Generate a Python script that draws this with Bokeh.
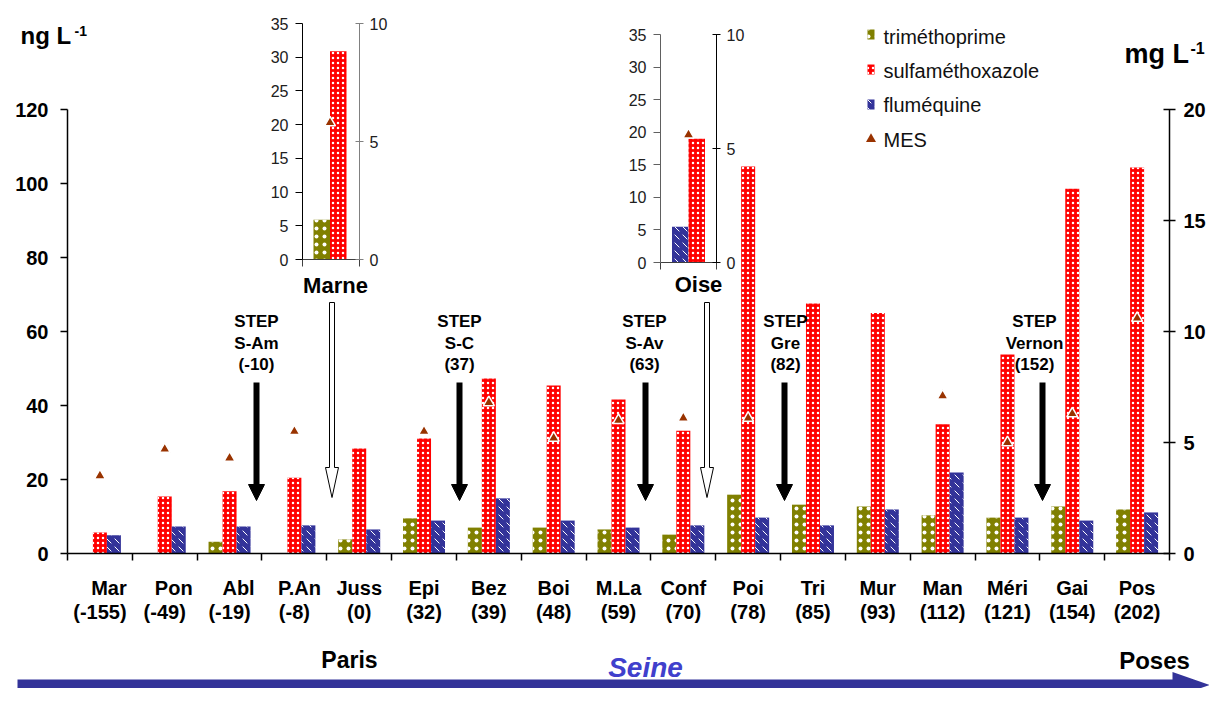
import math
from bokeh.plotting import figure
from bokeh.models import (Range1d, LinearAxis, FixedTicker, ColumnDataSource, Arrow,
                          NormalHead, CustomJSTickFormatter)
from bokeh.core.properties import value
from bokeh.embed import file_html
from bokeh.resources import INLINE

nan = float("nan")

# ---------------- data ----------------
sites = ["Mar", "Pon", "Abl", "P.An", "Juss", "Epi", "Bez", "Boi", "M.La", "Conf",
         "Poi", "Tri", "Mur", "Man", "Méri", "Gai", "Pos"]
km = ["(-155)", "(-49)", "(-19)", "(-8)", "(0)", "(32)", "(39)", "(48)", "(59)", "(70)",
      "(78)", "(85)", "(93)", "(112)", "(121)", "(154)", "(202)"]
trimethoprime = [0, 0, 3.2, 0, 3.8, 9.5, 7.0, 7.0, 6.5, 5.1, 15.9, 13.2, 12.7, 10.3, 9.7, 12.7, 11.9]
sulfamethoxazole = [5.7, 15.4, 16.8, 20.5, 28.4, 31.1, 47.3, 45.4, 41.6, 33.2,
                    104.6, 67.6, 65.0, 34.9, 53.8, 98.6, 104.3]
flumequine = [4.9, 7.3, 7.3, 7.6, 6.5, 8.9, 14.9, 8.9, 7.0, 7.6, 9.7, 7.6, 11.9, 21.9, 9.7, 8.9, 11.1]
mes = [3.5, 4.7, 4.3, 5.5, nan, 5.5, 6.8, 5.2, 6.0, 6.1, 6.1, nan, nan, 7.1, 5.0, 6.3, 10.6]

inset_names = ["Marne", "Oise"]
inset_trimethoprime = [5.9, 0.0]
inset_sulfamethoxazole = [30.9, 19.0]
inset_flumequine = [0.0, 5.5]
inset_mes = [5.8, 5.6]

series_names = ["triméthoprime", "sulfaméthoxazole", "fluméquine", "MES"]

step_names = ["S-Am", "S-C", "S-Av", "Gre", "Vernon"]
step_km = ["(-10)", "(37)", "(63)", "(82)", "(152)"]

left_ticks = [0, 20, 40, 60, 80, 100, 120]
right_ticks = [0, 5, 10, 15, 20]
inset_left_ticks = [0, 5, 10, 15, 20, 25, 30, 35]
inset_right_ticks = [0, 5, 10]

# ---------------- layout helpers (picture pixel -> data) ----------------
FNAME = "Liberation Sans"
FONT = value(FNAME)
W, H = 1209, 688


def xd(px):
    return (px - 67.0) * 17.0 / 1102.0


def yd(py):
    return (553.0 - py) * 120.0 / 444.0


def ym(py):  # Marne inset, ng/L
    return (259.0 - py) * 35.0 / 236.0


def yo(py):  # Oise inset, ng/L
    return (262.0 - py) * 35.0 / 228.0


def mid(baseline, size):  # vertical centre of a text whose baseline is given
    return baseline - 0.35 * size


p = figure(width=W, height=H, output_backend="svg", toolbar_location=None,
           x_axis_type=None, y_axis_type=None, min_border=0,
           x_range=Range1d(xd(0), xd(W)), y_range=Range1d(yd(H), yd(0)))
p.outline_line_color = None
p.background_fill_color = "white"
p.border_fill_color = "white"

p.extra_y_ranges = {
    "right": Range1d(yd(H) / 6.0, yd(0) / 6.0),
    "marne": Range1d(ym(H), ym(0)),
    "marne_r": Range1d(ym(H) * 10 / 35, ym(0) * 10 / 35),
    "oise": Range1d(yo(H), yo(0)),
    "oise_r": Range1d(yo(H) * 10 / 35, yo(0) * 10 / 35),
}

GREEN, RED, BLUE, BROWN = "#808000", "#FF0000", "#333399", "#993300"
HATCH = {
    "green": dict(fill_color=GREEN, hatch_pattern="dot", hatch_color="white", hatch_scale=8, hatch_weight=1),
    "red": dict(fill_color=RED, hatch_pattern="dot", hatch_color="white", hatch_scale=5, hatch_weight=1),
    "blue": dict(fill_color=BLUE, hatch_pattern="left_diagonal_dash", hatch_color="white", hatch_scale=8, hatch_weight=1),
}

# ---------------- main bars ----------------
n = len(sites)
xc = [i + 0.5 for i in range(n)]
bw = 14.0 / 64.82
src = ColumnDataSource(dict(
    xg=[x - bw for x in xc], xr=xc, xb=[x + bw for x in xc],
    trim=trimethoprime, sulfa=sulfamethoxazole, flum=flumequine, mes=mes,
))

p.vbar(x="xg", top="trim", width=bw, source=src, line_color=None, **HATCH["green"])
p.vbar(x="xr", top="sulfa", width=bw, source=src, line_color=None, **HATCH["red"])
p.vbar(x="xb", top="flum", width=bw, source=src, line_color=None, **HATCH["blue"])
p.scatter(x="xr", y="mes", source=src, y_range_name="right", marker="triangle",
          size=11, fill_color=BROWN, line_color="white", line_width=1.5)

# ---------------- axes (main) ----------------
blank = CustomJSTickFormatter(code="return ''")

ax_l = LinearAxis(fixed_location=0, bounds=(0, 120), ticker=FixedTicker(ticks=left_ticks),
                  major_tick_out=7, major_tick_in=0, minor_tick_out=0, minor_tick_in=0,
                  axis_line_width=1.5, major_tick_line_width=1.5, major_label_standoff=12,
                  major_label_text_font=FNAME, major_label_text_font_style="bold",
                  major_label_text_font_size="20px", major_label_text_color="black")
p.add_layout(ax_l, "left")

ax_r = LinearAxis(fixed_location=17, y_range_name="right", bounds=(0, 20),
                  ticker=FixedTicker(ticks=right_ticks),
                  major_tick_out=6, major_tick_in=6, minor_tick_out=0, minor_tick_in=0,
                  axis_line_width=1.5, major_tick_line_width=1.5, major_label_standoff=8,
                  major_label_text_font=FNAME, major_label_text_font_style="bold",
                  major_label_text_font_size="20px", major_label_text_color="black")
p.add_layout(ax_r, "right")

ax_b = LinearAxis(fixed_location=0, bounds=(0, 17), ticker=FixedTicker(ticks=list(range(n + 1))),
                  major_tick_out=7, major_tick_in=0, minor_tick_out=0, minor_tick_in=0,
                  axis_line_width=1.5, major_tick_line_width=1.5, formatter=blank)
p.add_layout(ax_b, "below")

# category labels (two lines)
name_shift = [9, 9, 9, 5] + [0] * (n - 4)
lab = ColumnDataSource(dict(x=xc, name=sites, km=km, dx=name_shift))
p.text(x="x", y=yd(mid(594, 20)), text="name", x_offset="dx", source=lab, text_font=FONT,
       text_font_style="bold", text_font_size="20px", text_align="center",
       text_baseline="middle", text_color="black")
p.text(x="x", y=yd(mid(618, 20)), text="km", source=lab, text_font=FONT,
       text_font_style="bold", text_font_size="20px", text_align="center",
       text_baseline="middle", text_color="black")


def txt(px, baseline, s, size, style="bold", align="center", color="black"):
    p.text(x=[xd(px)], y=[yd(mid(baseline, size))], text=[s], text_font=FONT,
           text_font_style=style, text_font_size=f"{size}px", text_align=align,
           text_baseline="middle", text_color=color)


# units
txt(20, 43, "ng L", 24, align="left")
txt(74, 35, "-1", 14, align="left")
txt(1124, 63, "mg L", 27, align="left")
txt(1190, 53, "-1", 16, align="left")

# ---------------- insets ----------------
ibw = 16.5 / 64.82
icx = [xd(329.5), xd(688)]
inset_ranges = [("marne", "marne_r"), ("oise", "oise_r")]
inset_axes_x = [(302, 359), (660, 716)]
inset_base_py = [259, 262]
inset_axis_colors = [("black", "#808080"), ("#606060", "black")]
inset_label_pos = [(335, 293), (698, 292)]

# Marne : triméthoprime + sulfaméthoxazole ; Oise : fluméquine + sulfaméthoxazole
for k in range(2):
    yl, yr = inset_ranges[k]
    c = icx[k]
    if k == 0:
        p.vbar(x=[c - ibw / 2], top=[inset_trimethoprime[k]], width=ibw, y_range_name=yl,
               line_color=None, **HATCH["green"])
    else:
        p.vbar(x=[c - ibw / 2], top=[inset_flumequine[k]], width=ibw, y_range_name=yl,
               line_color=None, **HATCH["blue"])
    p.vbar(x=[c + ibw / 2], top=[inset_sulfamethoxazole[k]], width=ibw, y_range_name=yl,
           line_color=None, **HATCH["red"])
    p.scatter(x=[c], y=[inset_mes[k]], y_range_name=yr, marker="triangle", size=11,
              fill_color=BROWN, line_color="white", line_width=1.5)

    lx, rx = inset_axes_x[k]
    lc, rc = inset_axis_colors[k]
    a1 = LinearAxis(fixed_location=xd(lx), y_range_name=yl, bounds=(0, 35),
                    ticker=FixedTicker(ticks=inset_left_ticks),
                    major_tick_out=7, major_tick_in=0, minor_tick_out=0, minor_tick_in=0,
                    axis_line_color=lc, major_tick_line_color=lc, major_label_standoff=7,
                    major_label_text_font=FNAME, major_label_text_font_size="16px",
                    major_label_text_color="#202020")
    p.add_layout(a1, "left")
    a2 = LinearAxis(fixed_location=xd(rx), y_range_name=yr, bounds=(0, 10),
                    ticker=FixedTicker(ticks=inset_right_ticks),
                    major_tick_out=4, major_tick_in=4, minor_tick_out=0, minor_tick_in=0,
                    axis_line_color=rc, major_tick_line_color=rc, major_label_standoff=6,
                    major_label_text_font=FNAME, major_label_text_font_size="16px",
                    major_label_text_color="#202020")
    p.add_layout(a2, "right")
    a3 = LinearAxis(fixed_location=yd(inset_base_py[k]), bounds=(xd(lx), xd(rx)),
                    ticker=FixedTicker(ticks=[xd(lx), xd(rx)]),
                    major_tick_out=7, major_tick_in=0, minor_tick_out=0, minor_tick_in=0,
                    axis_line_color="#404040", major_tick_line_color="#404040", formatter=blank)
    p.add_layout(a3, "below")
    tx, ty = inset_label_pos[k]
    txt(tx, ty, inset_names[k], 22)

# ---------------- STEP annotations ----------------
step_px = [256, 459, 644, 785, 1034]
arrow_px = [256, 459, 645, 784, 1042]
for j in range(len(step_names)):
    txt(step_px[j], 327, "STEP", 17)
    txt(step_px[j], 349, step_names[j], 17)
    txt(step_px[j], 370, step_km[j], 17)
    p.add_layout(Arrow(end=NormalHead(size=16, fill_color="black", line_color="black"),
                       x_start=xd(arrow_px[j]), y_start=yd(382),
                       x_end=xd(arrow_px[j]), y_end=yd(500),
                       line_width=6, line_color="black"))

# hollow arrows (tributaries)
for cx, top in [(331.5, 302), (706.5, 302)]:
    pts = [(cx - 2.5, top), (cx + 2.5, top), (cx + 2.5, 467), (cx + 6.5, 467),
           (cx, 497), (cx - 6.5, 467), (cx - 2.5, 467)]
    p.patch(x=[xd(a) for a, b in pts], y=[yd(b) for a, b in pts],
            fill_color="white", line_color="black", line_width=1)

# ---------------- legend (drawn by hand for exact glyph sizes) ----------------
leg_y = [34, 69, 104, 138.5]
leg_base = [43, 77, 111, 146]
for k, key in enumerate(["green", "red", "blue"]):
    p.rect(x=[xd(870.5)], y=[yd(leg_y[k])], width=7, height=10, width_units="screen",
           height_units="screen", line_color=None, **HATCH[key])
p.scatter(x=[xd(870.5)], y=[yd(leg_y[3])], marker="triangle", size=10,
          fill_color=BROWN, line_color=None)
for k, s in enumerate(series_names):
    txt(883, leg_base[k], s, 20, style="normal", align="left", color="#111111")

# ---------------- river ----------------
txt(349, 668, "Paris", 23)
txt(1154, 668, "Poses", 24)
txt(645, 677, "Seine", 28, style="bold italic", color="#4040CC")
cy = 683.5
river = [(17, cy - 4.5), (1172, cy - 4.5), (1172, cy - 12), (1209, cy + 1),
         (1172, cy + 14), (1172, cy + 4.5), (17, cy + 4.5)]
p.patch(x=[xd(a) for a, b in river], y=[yd(b) for a, b in river],
        fill_color="#333399", line_color=None)

open("out.html", "w").write(file_html(p, INLINE))
